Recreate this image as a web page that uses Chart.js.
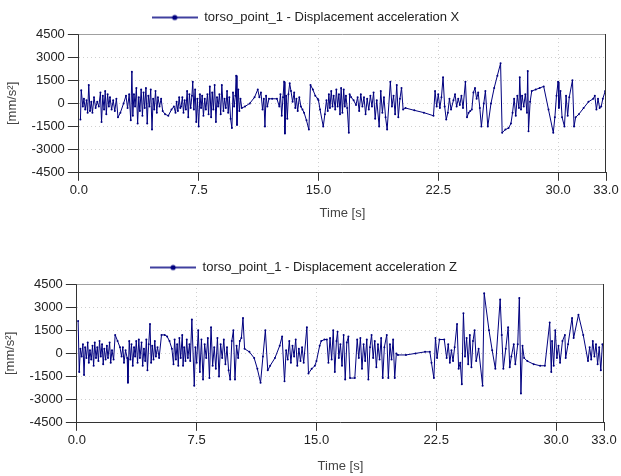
<!DOCTYPE html>
<html>
<head>
    <title>torso_point_1 - Displacement acceleration</title>
    <script src="https://cdn.jsdelivr.net/npm/chart.js@4.4.1/dist/chart.umd.min.js"></script>
    <style>
        body {
            margin: 0;
            background-color: white;
            font-family: "Liberation Sans", Arial, sans-serif;
        }
        .chart-box {
            position: absolute;
            left: 0;
            width: 621px;
        }
        #box1 { top: 0; height: 221px; }
        #box2 { top: 250px; height: 224px; }
    </style>
</head>
<body>
    <div class="chart-box" id="box1"><canvas id="chartX"></canvas></div>
    <div class="chart-box" id="box2"><canvas id="chartZ"></canvas></div>

    <script>
        // tick positions
        const xTicks = [0, 7.5, 15, 22.5, 30, 33];
        const yTicks = [-4500, -3000, -1500, 0, 1500, 3000, 4500];

        // acceleration X
        const timeX = [0.10,0.15,0.25,0.32,0.40,0.48,0.55,0.62,0.70,0.78,0.85,0.95,1.05,1.15,1.25,1.35,1.42,1.50,1.58,1.65,1.72,1.80,1.88,1.95,2.05,2.15,2.25,2.35,2.45,2.60,2.80,2.95,3.05,3.15,3.25,3.32,3.38,3.45,3.52,3.60,3.68,3.75,3.82,3.90,3.98,4.05,4.12,4.20,4.28,4.35,4.42,4.50,4.58,4.65,4.72,4.80,4.88,4.95,5.05,5.15,5.25,5.40,5.60,5.80,5.95,6.05,6.12,6.20,6.28,6.35,6.40,6.48,6.55,6.62,6.70,6.78,6.85,6.92,7.00,7.08,7.13,7.20,7.28,7.35,7.42,7.50,7.58,7.65,7.72,7.80,7.88,7.95,8.05,8.12,8.20,8.28,8.35,8.42,8.50,8.58,8.65,8.72,8.80,8.88,8.95,9.05,9.12,9.20,9.28,9.35,9.42,9.50,9.58,9.65,9.72,9.80,9.85,9.90,9.98,10.05,10.12,10.20,10.40,10.70,11.00,11.20,11.30,11.40,11.50,11.58,11.65,11.72,11.80,11.90,12.10,12.40,12.55,12.62,12.70,12.78,12.85,12.90,12.98,13.05,13.12,13.20,13.28,13.38,13.48,13.55,13.62,13.70,13.80,13.90,14.00,14.10,14.25,14.40,14.50,14.65,14.80,14.95,15.00,15.10,15.30,15.40,15.50,15.58,15.65,15.72,15.80,15.88,15.95,16.05,16.12,16.20,16.28,16.35,16.42,16.50,16.58,16.65,16.72,16.80,16.90,16.95,17.05,17.20,17.35,17.45,17.55,17.65,17.75,17.85,17.95,18.05,18.15,18.25,18.35,18.45,18.55,18.65,18.80,18.90,19.00,19.10,19.20,19.30,19.50,19.60,19.70,19.80,19.90,20.00,20.10,20.20,20.30,20.45,21.00,21.60,22.20,22.30,22.40,22.50,22.60,22.70,22.80,22.90,23.00,23.10,23.20,23.30,23.45,23.55,23.65,23.75,23.85,23.95,24.05,24.20,24.30,24.40,24.50,24.60,24.70,24.80,24.90,25.00,25.10,25.20,25.35,25.45,25.60,25.80,26.00,26.20,26.40,26.50,26.70,26.90,27.05,27.15,27.25,27.35,27.45,27.55,27.60,27.68,27.75,27.85,27.95,28.05,28.10,28.15,28.25,28.35,28.60,28.85,29.10,29.40,29.70,29.80,29.90,30.00,30.05,30.15,30.25,30.40,30.50,30.60,30.70,30.90,31.00,31.10,31.30,31.60,31.90,32.20,32.30,32.40,32.50,32.60,32.70,32.80,32.95,33.00];
        const accelX = [-1050,850,-200,300,-400,200,-600,1200,-500,100,-600,400,-300,100,-200,700,-1200,500,-400,800,-700,600,-200,400,-400,200,-500,300,-900,-600,0,500,-300,600,-1100,2050,-800,600,-200,1000,-1300,400,-500,900,-800,700,-300,1000,-1300,500,-200,900,-1700,300,-400,800,-600,400,-200,300,-500,-700,-800,-400,-200,-600,100,-500,400,-300,-200,400,-600,200,-400,800,-900,600,-300,500,1400,-400,900,-1200,300,-1500,600,-300,500,-800,300,-400,600,-700,1100,-900,700,-400,1200,-1200,400,-200,600,-700,1200,-500,300,-300,800,-600,400,-1000,-1600,700,-200,500,1800,-1400,900,-500,300,-300,-200,0,400,900,400,700,-400,300,-1500,500,-200,300,300,300,-200,600,-800,400,1400,-1950,500,-1000,600,1300,800,100,700,-300,300,-500,400,-200,-400,-600,-1100,-1700,1200,900,500,300,200,-400,-1500,-700,200,-500,600,-300,800,-200,500,-400,900,-200,600,-700,1000,-600,900,-200,500,-300,-1900,600,400,200,-100,400,-500,600,-200,400,-700,300,-400,500,-200,700,-1000,200,-1500,800,-600,400,-900,-1700,1400,-200,500,-700,1200,-900,300,1000,-400,-300,-450,-600,-800,800,-200,600,-300,400,1700,-200,-1050,-600,300,-400,200,600,-200,300,-100,500,-300,1400,-900,-600,-500,-400,700,1000,300,700,-300,-1500,0,800,-1500,0,1000,1800,2600,-1900,-1700,-1600,-1300,-600,300,-800,500,-300,1700,-400,500,-200,600,-600,2100,-1800,100,800,900,1000,1100,-400,-1900,-900,500,1400,-300,800,-900,-1500,500,-800,400,1500,-1500,-900,-700,-300,100,300,500,-400,300,-300,-200,300,800,500];

        // acceleration Z
        const timeZ = [0.08,0.15,0.22,0.30,0.38,0.45,0.52,0.60,0.68,0.75,0.82,0.90,0.98,1.05,1.12,1.20,1.28,1.35,1.42,1.50,1.58,1.65,1.72,1.80,1.88,1.95,2.05,2.12,2.20,2.30,2.40,2.55,2.70,2.80,2.88,2.95,3.05,3.15,3.20,3.28,3.35,3.42,3.50,3.58,3.65,3.72,3.80,3.88,3.95,4.05,4.12,4.20,4.28,4.35,4.42,4.50,4.58,4.65,4.72,4.80,4.88,4.95,5.05,5.15,5.30,5.50,5.65,5.80,5.95,6.05,6.12,6.20,6.28,6.35,6.42,6.50,6.60,6.65,6.72,6.80,6.88,6.95,7.05,7.10,7.20,7.35,7.42,7.50,7.60,7.70,7.80,7.90,8.00,8.10,8.20,8.30,8.40,8.50,8.60,8.70,8.80,8.90,9.00,9.10,9.20,9.30,9.40,9.50,9.60,9.70,9.80,9.90,10.00,10.10,10.20,10.30,10.40,10.50,10.80,11.10,11.30,11.50,11.65,11.80,11.95,12.10,12.40,12.70,12.85,13.00,13.10,13.20,13.30,13.40,13.50,13.60,13.70,13.80,13.90,14.00,14.10,14.20,14.40,14.50,14.70,14.90,15.00,15.20,15.30,15.50,15.65,15.75,15.85,15.95,16.05,16.15,16.25,16.32,16.40,16.50,16.60,16.70,16.80,16.90,17.00,17.10,17.40,17.55,17.65,17.75,17.85,17.95,18.05,18.15,18.25,18.35,18.45,18.55,18.65,18.75,18.85,18.95,19.05,19.15,19.25,19.40,19.50,19.60,19.70,19.80,19.90,20.00,20.10,20.60,21.20,21.80,22.10,22.20,22.35,22.45,22.55,22.70,23.00,23.15,23.25,23.35,23.45,23.55,23.65,23.80,23.90,24.00,24.10,24.20,24.30,24.40,24.50,24.60,24.70,24.80,24.90,25.00,25.15,25.40,25.50,25.80,26.00,26.20,26.50,26.60,26.70,26.85,27.00,27.10,27.20,27.35,27.45,27.60,27.70,27.80,27.90,28.00,28.20,28.60,29.00,29.30,29.60,29.70,29.75,29.85,29.95,30.05,30.15,30.25,30.40,30.55,30.60,30.75,31.00,31.10,31.40,31.70,32.00,32.10,32.20,32.30,32.40,32.50,32.60,32.70,32.80,32.90,33.00];
        const accelZ = [2100,-1200,300,-200,600,-1400,400,-300,700,-600,200,-400,500,-800,700,-300,400,-500,800,-200,600,-700,300,-400,500,-300,700,-600,200,-400,1200,800,400,-200,400,-600,200,-300,-1900,800,-400,600,-800,400,-200,800,-600,900,-300,700,-800,300,-500,900,-1100,600,1900,-600,500,-400,800,-200,400,-300,1200,1200,1100,800,300,-700,900,-400,600,-800,1000,-300,1200,-800,400,-500,900,-300,600,-500,2200,-2100,400,-600,1500,-1200,900,-1700,600,-300,1000,-1600,1700,-800,400,-1000,1000,-1500,600,-300,900,-700,400,-1100,-1700,800,1500,-1700,500,-300,800,1000,2300,300,100,-300,-1000,-1900,-200,1500,-1100,-800,-300,500,1100,-1800,200,-400,800,-600,500,-200,900,-800,300,-500,400,-600,1700,-1300,-1000,-800,-500,500,800,900,900,-600,1000,-400,1500,-1200,800,1400,-300,600,-800,1200,-1700,700,1100,-1600,-1600,900,-300,1000,-1000,600,-500,900,-1700,400,1200,-300,800,-900,600,-400,1000,-1600,400,1200,-1600,600,-400,900,-1600,0,-100,-100,0,100,100,-600,-1600,1000,-300,900,900,-300,600,-600,200,-500,400,1900,-1000,-600,-2000,2600,-200,1000,-700,1200,-900,800,1500,-500,300,-2100,3900,1500,200,-1000,3500,1200,-1000,300,1700,-900,-200,600,-700,600,3600,-2600,500,-300,-500,-700,-800,-800,2000,-1200,800,-800,1500,-300,500,-600,800,1200,-300,600,2300,1000,2500,1200,-500,400,-400,800,-200,600,-700,400,-1100,600,400];

        const lineColor = '#00007f';

        // legend symbol: short line with a dot in the middle
        function legendSymbol() {
            const c = document.createElement('canvas');
            c.width = 46; c.height = 8;
            const g = c.getContext('2d');
            g.strokeStyle = lineColor;
            g.lineWidth = 1.6;
            g.beginPath(); g.moveTo(0, 4); g.lineTo(46, 4); g.stroke();
            g.fillStyle = lineColor;
            g.beginPath(); g.arc(23, 4, 2.6, 0, Math.PI * 2); g.fill();
            return c;
        }

        // top border grey, right border dark
        const framePlugin = {
            id: 'frame',
            afterDatasetsDraw(chart) {
                const a = chart.chartArea, ctx = chart.ctx;
                ctx.save();
                ctx.lineWidth = 1;
                ctx.strokeStyle = '#a0a0a0';
                ctx.beginPath(); ctx.moveTo(a.left, a.top + 0.5); ctx.lineTo(a.right, a.top + 0.5); ctx.stroke();
                ctx.strokeStyle = '#333333';
                ctx.beginPath(); ctx.moveTo(a.right - 0.5, a.top); ctx.lineTo(a.right - 0.5, a.bottom); ctx.stroke();
                ctx.restore();
            }
        };

        const font13 = { size: 13, family: '"Liberation Sans", Arial' };

        function makeChart(canvasId, times, values, title, pad, titleGap) {
            const points = times.map((t, i) => ({ x: t, y: values[i] }));
            const symbol = legendSymbol();
            return new Chart(document.getElementById(canvasId), {
                type: 'line',
                data: {
                    datasets: [{
                        label: title,
                        data: points,
                        borderColor: lineColor,
                        backgroundColor: lineColor,
                        borderWidth: 1,
                        pointRadius: 1,
                        pointBorderWidth: 0,
                        pointHoverRadius: 2,
                        pointStyle: 'circle',
                        tension: 0
                    }]
                },
                options: {
                    responsive: true,
                    maintainAspectRatio: false,
                    animation: false,
                    layout: { padding: pad },
                    scales: {
                        x: {
                            type: 'linear',
                            min: 0,
                            max: 33,
                            afterBuildTicks: axis => { axis.ticks = xTicks.map(v => ({ value: v })); },
                            ticks: {
                                color: '#222',
                                font: font13,
                                padding: 2,
                                maxRotation: 0,
                                callback: v => v.toFixed(1)
                            },
                            grid: {
                                color: ctx => (ctx.tick && (ctx.tick.value === 0 || ctx.tick.value === 33)) ? 'rgba(0,0,0,0)' : '#d0d0d0',
                                tickColor: '#333',
                                tickLength: 8,
                                tickBorderDash: []
                            },
                            border: { color: '#333', width: 1, dash: [1, 3] },
                            title: {
                                display: true,
                                text: 'Time [s]',
                                color: '#444',
                                font: font13,
                                padding: { top: titleGap, bottom: 0 }
                            }
                        },
                        y: {
                            min: -4500,
                            max: 4500,
                            afterBuildTicks: axis => { axis.ticks = yTicks.map(v => ({ value: v })); },
                            ticks: {
                                color: '#222',
                                font: font13,
                                padding: 3,
                                callback: v => String(v)
                            },
                            grid: {
                                color: ctx => (ctx.tick && Math.abs(ctx.tick.value) === 4500) ? 'rgba(0,0,0,0)' : '#d0d0d0',
                                tickColor: '#333',
                                tickLength: 11,
                                tickBorderDash: []
                            },
                            border: { color: '#333', width: 1, dash: [1, 3] },
                            title: {
                                display: true,
                                text: '[mm/s²]',
                                color: '#444',
                                font: font13,
                                padding: { top: 0, bottom: 8 }
                            }
                        }
                    },
                    plugins: {
                        legend: {
                            position: 'top',
                            labels: {
                                usePointStyle: true,
                                pointStyleWidth: 46,
                                color: '#222',
                                font: font13,
                                boxWidth: 46,
                                padding: 8,
                                generateLabels: chart => {
                                    const items = Chart.defaults.plugins.legend.labels.generateLabels(chart);
                                    items.forEach(it => { it.pointStyle = symbol; });
                                    return items;
                                }
                            }
                        },
                        tooltip: { enabled: false }
                    }
                },
                plugins: [framePlugin]
            });
        }

        makeChart('chartX', timeX, accelX, 'torso_point_1 - Displacement acceleration X', { left: 5, right: 15, top: 3, bottom: 0 }, 5);
        makeChart('chartZ', timeZ, accelZ, 'torso_point_1 - Displacement acceleration Z', { left: 3, right: 17, top: 3, bottom: 0 }, 8);
    </script>
</body>
</html>
